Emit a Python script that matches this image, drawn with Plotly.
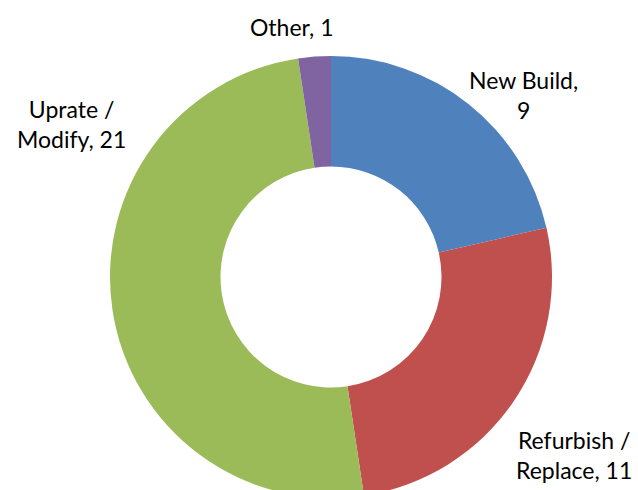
import plotly.graph_objects as go

# Data
categories = ["New Build", "Refurbish / Replace", "Uprate / Modify", "Other"]
values = [9, 11, 21, 1]
colors = ["#4F81BD", "#C0504D", "#9BBB59", "#8064A2"]

W, H = 638, 510

def px_x(x):
    return x / W

def px_y(y):
    return 1 - y / H

# Pie geometry (pixels): centre (331, 277), radius 221
cx, cy, R = 331, 277, 221

fig = go.Figure(go.Pie(
    labels=categories,
    values=values,
    marker=dict(colors=colors, line=dict(width=0)),
    hole=0.5,
    sort=False,
    direction="clockwise",
    rotation=0,
    textinfo="none",
    hoverinfo="label+value",
    domain=dict(x=[px_x(cx - R), px_x(cx + R)], y=[px_y(cy + R), px_y(cy - R)]),
    showlegend=False,
))

label_texts = {
    "New Build": f"New Build,<br>{values[0]}",
    "Refurbish / Replace": f"Refurbish /<br>Replace, {values[1]}",
    "Uprate / Modify": f"Uprate /<br>Modify, {values[2]}",
    "Other": f"Other, {values[3]}",
}
label_pos = {
    "New Build": (523, 95),
    "Refurbish / Replace": (574, 455),
    "Uprate / Modify": (71, 124),
    "Other": (291, 27),
}
for cat in categories:
    x, y = label_pos[cat]
    fig.add_annotation(
        text=label_texts[cat], x=px_x(x), y=px_y(y), xref="paper", yref="paper",
        showarrow=False, xanchor="center", yanchor="middle", align="center",
        font=dict(family="Lato", size=23, color="#000000"),
    )

fig.update_layout(
    width=W, height=H,
    margin=dict(l=0, r=0, t=0, b=0),
    paper_bgcolor="white", plot_bgcolor="white",
)

fig.write_html(
    "out.html",
    config={"displayModeBar": False},
    post_script="document.body.style.margin='0';document.body.style.overflow='hidden';document.documentElement.style.overflow='hidden';",
)
